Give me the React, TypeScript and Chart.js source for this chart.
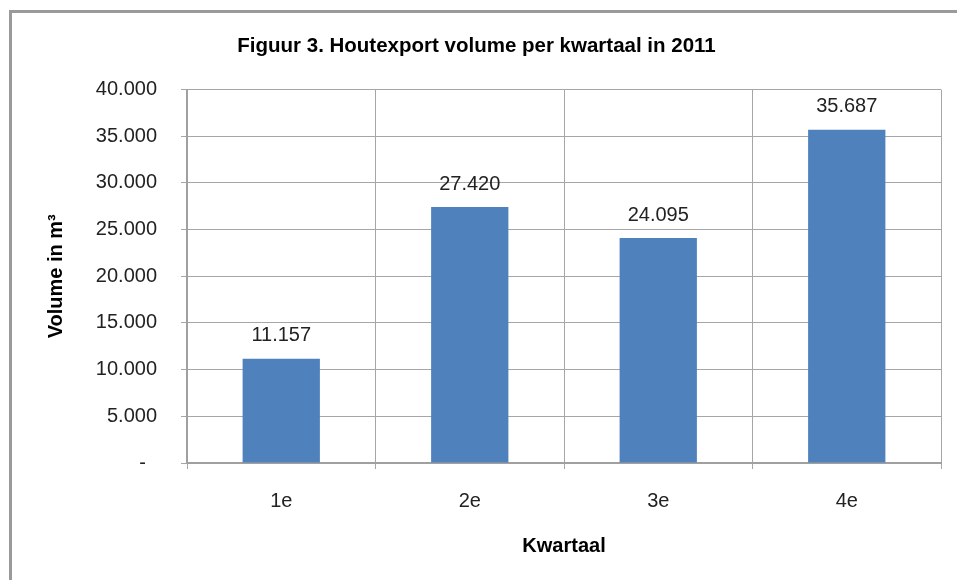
import React, { useEffect, useRef } from "react";
import { Chart, registerables } from "chart.js";

Chart.register(...registerables);

const chartTitle = "Figuur 3. Houtexport volume per kwartaal in 2011";
const xAxisTitle = "Kwartaal";
const yAxisTitle = "Volume in m³";
const categories = ["1e", "2e", "3e", "4e"];
const volumes = [11157, 27420, 24095, 35687];
const yTickValues = [0, 5000, 10000, 15000, 20000, 25000, 30000, 35000, 40000];
const yTickLabels = ["-  ", "5.000", "10.000", "15.000", "20.000", "25.000", "30.000", "35.000", "40.000"];

const FONT = "'Liberation Sans', Arial, sans-serif";

function formatNl(v: number): string {
  const s = Math.round(v).toString();
  return s.replace(/\B(?=(\d{3})+(?!\d))/g, ".");
}

const dataLabelPlugin = {
  id: "dataLabels",
  afterDatasetsDraw(chart: any) {
    const ctx = chart.ctx;
    const meta = chart.getDatasetMeta(0);
    ctx.save();
    ctx.font = `20px ${FONT}`;
    ctx.fillStyle = "#222";
    ctx.textAlign = "center";
    ctx.textBaseline = "middle";
    meta.data.forEach((bar: any, i: number) => {
      ctx.fillText(formatNl(volumes[i]), bar.x, bar.y - 23);
    });
    ctx.restore();
  },
};

export default function App() {
  const ref = useRef<HTMLCanvasElement | null>(null);
  useEffect(() => {
    if (!ref.current) return;
    const chart = new Chart(ref.current, {
      type: "bar",
      data: {
        labels: categories,
        datasets: [
          {
            data: volumes,
            backgroundColor: "#4F81BD",
            borderWidth: 0,
            barPercentage: 0.41,
            categoryPercentage: 1,
          },
        ],
      },
      options: {
        animation: false,
        responsive: false,
        devicePixelRatio: 1,
        layout: { padding: { left: 0, right: 16, top: 0, bottom: 0 } },
        plugins: {
          legend: { display: false },
          tooltip: { enabled: false },
          title: {
            display: true,
            text: chartTitle,
            color: "#000",
            font: { family: FONT, size: 20.5, weight: "bold" },
            padding: { top: 21, bottom: 31 },
          },
        },
        scales: {
          x: {
            offset: true,
            grid: {
              offset: true,
              color: "#a6a6a6",
              lineWidth: 1,
              tickLength: 6,
              drawTicks: true,
            },
            border: { color: "#a0a0a0", width: 2 },
            ticks: {
              color: "#222",
              font: { family: FONT, size: 20 },
              padding: 20,
              maxRotation: 0,
            },
            title: {
              display: true,
              text: xAxisTitle,
              color: "#000",
              font: { family: FONT, size: 20, weight: "bold" },
              padding: { top: 0, bottom: 22 },
            },
            afterFit(scale: any) {
              scale.height = 117;
            },
          },
          y: {
            min: 0,
            max: 40000,
            afterBuildTicks(scale: any) {
              scale.ticks = yTickValues.map((v) => ({ value: v }));
            },
            grid: {
              color: "#a6a6a6",
              lineWidth: 1,
              tickLength: 6,
            },
            border: { color: "#a0a0a0", width: 2 },
            ticks: {
              color: "#222",
              font: { family: FONT, size: 20 },
              padding: 24,
              callback: (value: any) => {
                const idx = yTickValues.indexOf(Number(value));
                return idx >= 0 ? yTickLabels[idx] : "";
              },
            },
            title: {
              display: true,
              text: yAxisTitle,
              color: "#000",
              font: { family: FONT, size: 20, weight: "bold" },
              padding: { top: 32, bottom: 0 },
            },
            afterFit(scale: any) {
              scale.width = 175;
            },
          },
        },
      },
      plugins: [dataLabelPlugin],
    });
    return () => chart.destroy();
  }, []);

  return (
    <div
      style={{
        position: "fixed",
        left: 9,
        top: 10,
        width: 948,
        height: 570,
        boxSizing: "border-box",
        borderLeft: "3px solid #9a9a9a",
        borderTop: "3px solid #9a9a9a",
        background: "#fff",
        overflow: "hidden",
      }}
    >
      <canvas ref={ref} width={945} height={567} style={{ display: "block" }} />
    </div>
  );
}
